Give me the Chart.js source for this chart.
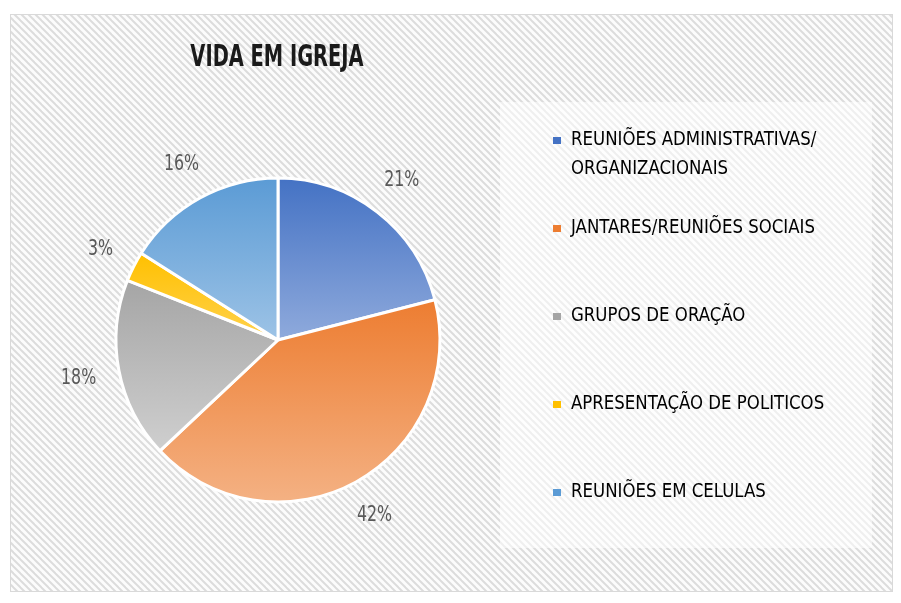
<!DOCTYPE html>
<html>
<head>
<meta charset="utf-8">
<script src="https://cdn.jsdelivr.net/npm/chart.js@4.4.0/dist/chart.umd.min.js"></script>
<style>
  html, body { margin: 0; padding: 0; background: #fff; }
  #wrap { width: 901px; height: 603px; }
</style>
</head>
<body>
<div id="wrap"><canvas id="igrejaPie"></canvas></div>
<script>
const chartTitle = 'VIDA EM IGREJA';
const categories = [
    ['REUNIÕES ADMINISTRATIVAS/', 'ORGANIZACIONAIS'],
    ['JANTARES/REUNIÕES SOCIAIS'],
    ['GRUPOS DE ORAÇÃO'],
    ['APRESENTAÇÃO DE POLITICOS'],
    ['REUNIÕES EM CELULAS']
];
const percentages = [21, 42, 18, 3, 16];
const darkColors = ['#4472C4', '#ED7D31', '#A5A5A5', '#FFC000', '#5B9BD5'];
const lightColors = ['#8FAADC', '#F4B183', '#CFCFCF', '#FFD24D', '#9DC3E6'];

const FONT = '"Liberation Sans Narrow", "DejaVu Sans Condensed", "Roboto", sans-serif';

// texto estreito (parecido com Agency FB): escala horizontal
function narrowText(ctx, str, x, y, font, color, sx, align) {
    ctx.save();
    ctx.font = font;
    ctx.fillStyle = color;
    ctx.textBaseline = 'middle';
    const w = ctx.measureText(str).width * sx;
    let left = x;
    if (align === 'center') left = x - w / 2;
    ctx.translate(left, y);
    ctx.scale(sx, 1);
    ctx.textAlign = 'left';
    ctx.fillText(str, 0, 0);
    ctx.restore();
    return w;
}

// fundo listrado
function makeHatch() {
    const s = 7;
    const c = document.createElement('canvas');
    c.width = s; c.height = s;
    const g = c.getContext('2d');
    g.fillStyle = '#fcfcfc';
    g.fillRect(0, 0, s, s);
    g.strokeStyle = '#dcdcdc';
    g.lineWidth = 2;
    [-s, 0, s].forEach(k => {
        g.beginPath();
        g.moveTo(k - 1, -1);
        g.lineTo(k + s + 1, s + 1);
        g.stroke();
    });
    return c;
}
const hatchTile = makeHatch();

const backgroundPlugin = {
    id: 'fundo',
    beforeDraw(chart) {
        const ctx = chart.ctx;
        ctx.save();
        ctx.fillStyle = '#fff';
        ctx.fillRect(0, 0, chart.width, chart.height);
        ctx.fillStyle = ctx.createPattern(hatchTile, 'repeat');
        ctx.fillRect(10, 14, 883, 578);
        ctx.strokeStyle = '#d9d9d9';
        ctx.lineWidth = 1;
        ctx.strokeRect(10.5, 14.5, 882, 577);
        ctx.fillStyle = 'rgba(255,255,255,0.55)';
        ctx.fillRect(500, 102, 372, 446);
        ctx.restore();
    }
};

// gradiente vertical por fatia
const gradientPlugin = {
    id: 'gradiente',
    beforeDatasetsDraw(chart) {
        const ctx = chart.ctx;
        chart.getDatasetMeta(0).data.forEach((arc, i) => {
            const { x, y, startAngle, endAngle, outerRadius } = arc.getProps(['x', 'y', 'startAngle', 'endAngle', 'outerRadius']);
            const ys = [y, y + outerRadius * Math.sin(startAngle), y + outerRadius * Math.sin(endAngle)];
            [Math.PI / 2, -Math.PI / 2, 3 * Math.PI / 2].forEach(a => {
                if (a > startAngle && a < endAngle) ys.push(y + outerRadius * Math.sin(a));
            });
            const top = Math.min(...ys), bottom = Math.max(...ys);
            const grad = ctx.createLinearGradient(0, top, 0, bottom);
            grad.addColorStop(0, darkColors[i]);
            grad.addColorStop(1, lightColors[i]);
            arc.options.backgroundColor = grad;
        });
    }
};

// rótulos de porcentagem fora da pizza
const labelsPlugin = {
    id: 'rotulos',
    afterDatasetsDraw(chart) {
        const ctx = chart.ctx;
        const font = '22px ' + FONT;
        chart.getDatasetMeta(0).data.forEach((arc, i) => {
            const { x, y, startAngle, endAngle, outerRadius } = arc.getProps(['x', 'y', 'startAngle', 'endAngle', 'outerRadius']);
            const mid = (startAngle + endAngle) / 2;
            const txt = percentages[i] + '%';
            ctx.font = font;
            const w = ctx.measureText(txt).width * 0.8;
            const h = 18;
            const c = Math.cos(mid), s = Math.sin(mid);
            const d = outerRadius + 22 + Math.abs(c) * w / 2 + Math.abs(s) * h / 2;
            narrowText(ctx, txt, x + d * c, y + d * s, font, '#595959', 0.8, 'center');
        });
    }
};

const titleLegendPlugin = {
    id: 'tituloLegenda',
    afterDraw(chart) {
        const ctx = chart.ctx;
        narrowText(ctx, chartTitle, 277, 58, 'bold 30px ' + FONT, '#1a1a1a', 0.72, 'center');
        categories.forEach((lines, i) => {
            const yy = 140 + 88 * i;
            ctx.fillStyle = darkColors[i];
            ctx.fillRect(553, yy - 3, 8, 7);
            lines.forEach((ln, j) => {
                narrowText(ctx, ln, 571, yy + j * 29, '19px ' + FONT, '#000', 0.97, 'left');
            });
        });
    }
};

const ctx = document.getElementById('igrejaPie').getContext('2d');

const igrejaPie = new Chart(ctx, {
    type: 'pie',
    data: {
        labels: categories,
        datasets: [{
            data: percentages,
            backgroundColor: darkColors,
            borderColor: '#ffffff',
            borderWidth: 3,
            radius: 162,
            hoverOffset: 0
        }]
    },
    options: {
        responsive: true,
        maintainAspectRatio: false,
        animation: false,
        layout: {
            padding: { left: 108, right: 453, top: 170, bottom: 93 }
        },
        plugins: {
            legend: { display: false },
            title: { display: false },
            tooltip: { enabled: false }
        },
        events: []
    },
    plugins: [backgroundPlugin, gradientPlugin, labelsPlugin, titleLegendPlugin]
});
</script>
</body>
</html>
